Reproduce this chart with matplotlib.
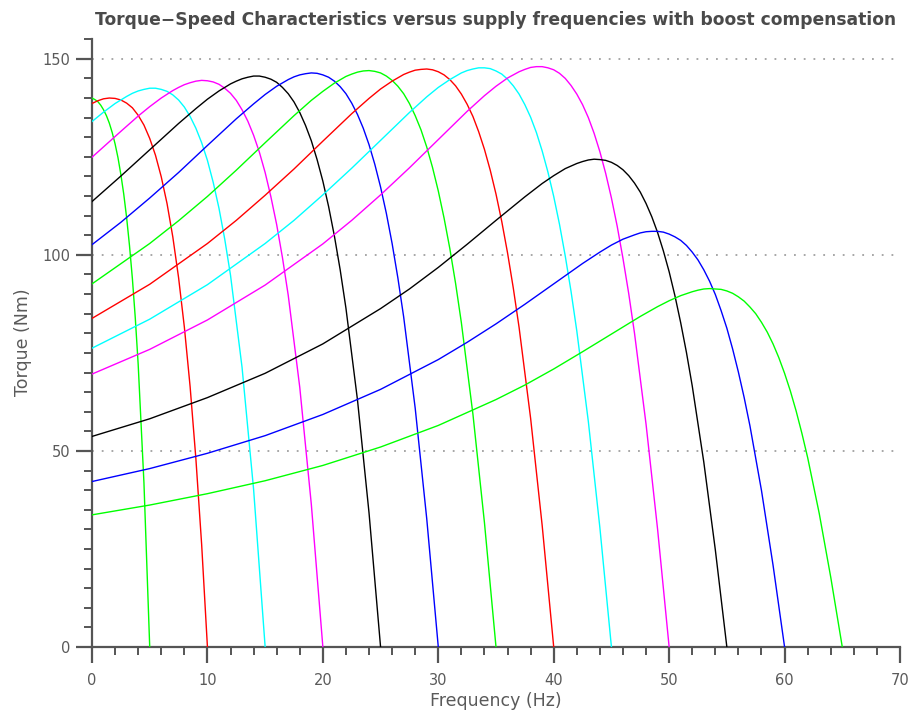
import matplotlib
matplotlib.use("Agg")
import matplotlib.pyplot as plt
from matplotlib.ticker import MultipleLocator

# Supply frequencies (Hz); each curve ends at its synchronous speed
freqs = [5, 10, 15, 20, 25, 30, 35, 40, 45, 50, 55, 60, 65]
line_colors = ["#00ff00", "#ff0000", "#00ffff", "#ff00ff", "#000000", "#0000ff",
               "#00ff00", "#ff0000", "#00ffff", "#ff00ff", "#000000", "#0000ff",
               "#00ff00"]

# Slip (Hz below synchronous speed) at which torque values are listed
slip_five = [0, 0.5, 1, 1.25, 1.5, 1.75, 2, 2.25, 2.5, 2.75, 3, 3.25, 3.5, 3.75,
             4, 4.25, 4.5, 4.75, 5]
slip_ten = [0, 0.5, 1, 1.5, 2, 2.5, 3, 3.5, 4, 4.5, 5, 5.5, 6, 6.5, 7, 7.5, 8,
            8.5, 9, 9.5, 10]
slip_main = [0, 1, 2, 3, 3.5, 4, 4.5, 5, 5.5, 6, 6.5, 7, 7.5, 8, 8.5, 9, 9.5,
             10, 10.5, 11, 11.5, 12, 12.5, 13, 14, 15, 16, 17.5, 20, 22.5, 25,
             27.5, 30, 35, 40, 45, 50, 55, 60, 65]

# Torque (Nm) for each supply frequency, in slip order
torque_05 = [0, 41.9, 72.1, 83.9, 93.9, 102.3, 109.5, 115.5, 120.5, 124.8, 128.3,
             131.2, 133.6, 135.5, 137.0, 138.2, 139.1, 139.6, 140.0]
torque_10 = [0, 26.1, 48.0, 66.4, 81.6, 94.2, 104.6, 113.1, 119.9, 125.4, 129.7,
             133.1, 135.6, 137.5, 138.7, 139.5, 139.9, 140.0, 139.8, 139.3, 138.6]
torque_15 = [0, 40.2, 71.3, 94.8, 104.0, 111.9, 118.5, 124.1, 128.6, 132.3, 135.3,
             137.7, 139.5, 140.8, 141.7, 142.2, 142.5, 142.5, 142.2, 141.8, 141.2,
             140.4, 139.5, 138.6, 136.4, 134.0]
torque_20 = [0, 36.4, 66.2, 89.7, 99.3, 107.7, 114.8, 121.0, 126.2, 130.5, 134.1,
             137.0, 139.4, 141.2, 142.5, 143.5, 144.1, 144.4, 144.5, 144.3, 143.9,
             143.4, 142.7, 141.9, 140.0, 137.8, 135.4, 131.5, 124.9]
torque_25 = [0, 34.2, 63.0, 86.4, 96.2, 104.8, 112.3, 118.8, 124.3, 129.1, 133.0,
             136.3, 139.0, 141.1, 142.7, 144.0, 144.8, 145.3, 145.6, 145.6, 145.3,
             144.9, 144.3, 143.6, 141.8, 139.7, 137.3, 133.5, 126.8, 120.1, 113.6]
torque_30 = [0, 32.7, 60.9, 84.2, 94.1, 102.9, 110.6, 117.3, 123.1, 128.1, 132.3,
             135.8, 138.7, 141.1, 142.9, 144.3, 145.3, 145.9, 146.3, 146.4, 146.2,
             145.9, 145.4, 144.7, 143.0, 140.9, 138.5, 134.7, 127.9, 121.0, 114.5,
             108.3, 102.6]
torque_35 = [0, 31.7, 59.4, 82.7, 92.7, 101.6, 109.4, 116.3, 122.3, 127.5, 131.9,
             135.5, 138.6, 141.1, 143.0, 144.5, 145.6, 146.4, 146.8, 147.0, 146.9,
             146.6, 146.1, 145.5, 143.8, 141.7, 139.4, 135.5, 128.6, 121.6, 114.9,
             108.7, 102.9, 92.6]
torque_40 = [0, 31.0, 58.3, 81.5, 91.5, 100.5, 108.5, 115.5, 121.6, 126.9, 131.4,
             135.3, 138.4, 141.0, 143.1, 144.7, 145.9, 146.7, 147.2, 147.4, 147.3,
             147.1, 146.6, 146.0, 144.3, 142.3, 139.9, 136.0, 129.0, 121.9, 115.2,
             108.8, 102.9, 92.5, 83.8]
torque_45 = [0, 30.4, 57.5, 80.6, 90.7, 99.7, 107.8, 114.9, 121.1, 126.5, 131.2,
             135.1, 138.3, 141.0, 143.1, 144.8, 146.1, 146.9, 147.5, 147.7, 147.7,
             147.4, 147.0, 146.4, 144.7, 142.7, 140.3, 136.3, 129.2, 122.1, 115.3,
             108.8, 102.9, 92.4, 83.6, 76.2]
torque_50 = [0, 30.0, 56.8, 80.0, 90.1, 99.1, 107.3, 114.5, 120.8, 126.3, 131.0,
             135.0, 138.3, 141.0, 143.2, 145.0, 146.3, 147.2, 147.7, 148.0, 148.0,
             147.8, 147.3, 146.7, 145.1, 143.0, 140.6, 136.6, 129.4, 122.2, 115.3,
             108.8, 102.8, 92.3, 83.4, 75.9, 69.6]
torque_55 = [0, 24.8, 47.2, 66.6, 75.1, 82.7, 89.6, 95.7, 101.0, 105.7, 109.7,
             113.1, 116.0, 118.3, 120.2, 121.7, 122.8, 123.6, 124.1, 124.3, 124.4,
             124.2, 123.8, 123.3, 122.0, 120.2, 118.2, 114.8, 108.8, 102.7, 96.8,
             91.3, 86.3, 77.3, 69.8, 63.6, 58.2, 53.7]
torque_60 = [0, 20.9, 39.9, 56.4, 63.6, 70.1, 76.0, 81.3, 85.8, 89.9, 93.3,
             96.2, 98.7, 100.7, 102.4, 103.7, 104.6, 105.3, 105.8, 106.0, 106.0,
             105.9, 105.6, 105.1, 104.0, 102.5, 100.7, 97.8, 92.6, 87.4, 82.4,
             77.7, 73.3, 65.7, 59.3, 53.9, 49.4, 45.5, 42.2]
torque_65 = [0, 17.8, 34.1, 48.3, 54.5, 60.2, 65.3, 69.8, 73.8, 77.3, 80.3,
             82.8, 85.0, 86.7, 88.2, 89.3, 90.2, 90.8, 91.2, 91.3, 91.4,
             91.3, 91.0, 90.6, 89.6, 88.3, 86.8, 84.3, 79.8, 75.3, 70.9,
             66.8, 63.1, 56.5, 51.0, 46.3, 42.4, 39.1, 36.2, 33.7]

torque_series = [torque_05, torque_10, torque_15, torque_20, torque_25, torque_30,
                 torque_35, torque_40, torque_45, torque_50, torque_55, torque_60,
                 torque_65]

title_text = "Torque\u2212Speed Characteristics versus supply frequencies with boost compensation"
x_label = "Frequency (Hz)"
y_label = "Torque (Nm)"

axis_grey = "#555555"
text_grey = "#5a5a5a"

plt.rcParams["font.family"] = ["DejaVu Sans"]

fig = plt.figure(figsize=(9.13, 7.16), dpi=100)
ax = fig.add_axes([92 / 913, 69 / 716, 808 / 913, 607.8 / 716])

for f, tq, col in zip(freqs, torque_series, line_colors):
    if f == 5:
        grid = slip_five
    elif f == 10:
        grid = slip_ten
    else:
        grid = slip_main
    speed = [f - s for s in grid[:len(tq)]]
    ax.plot(speed, tq, color=col, linewidth=1.0, solid_joinstyle="round", zorder=3)

ax.set_xlim(0, 70)
ax.set_ylim(0, 155)

# horizontal dotted grid at the major torque ticks
for yv in (50, 100, 150):
    ax.plot([0, 70], [yv, yv], color="#a0a0a0", linewidth=1.3,
            linestyle=(0, (1, 4.4)), zorder=1)

for side in ("top", "right"):
    ax.spines[side].set_visible(False)
for side in ("left", "bottom"):
    ax.spines[side].set_color(axis_grey)
    ax.spines[side].set_linewidth(1.6)

ax.xaxis.set_major_locator(MultipleLocator(10))
ax.xaxis.set_minor_locator(MultipleLocator(2))
ax.yaxis.set_major_locator(MultipleLocator(50))
ax.yaxis.set_minor_locator(MultipleLocator(5))

ax.tick_params(axis="both", which="major", direction="out", length=11.5, width=1.6,
               color=axis_grey, labelsize=10.5, labelcolor=text_grey)
ax.tick_params(axis="both", which="minor", direction="out", length=5.5, width=1.4,
               color=axis_grey)
ax.tick_params(axis="x", which="major", pad=7)
ax.tick_params(axis="y", which="major", pad=4)

ax.set_title(title_text, fontsize=12.3, fontweight="bold", color="#4a4a4a", pad=10)
fig.text(496 / 913, 1 - 701 / 716, x_label, ha="center", va="center",
         fontsize=12.5, color=text_grey)
fig.text(23 / 913, 1 - 342 / 716, y_label, ha="center", va="center",
         rotation=90, fontsize=12.5, color=text_grey)

fig.savefig("out.png", dpi=100)
